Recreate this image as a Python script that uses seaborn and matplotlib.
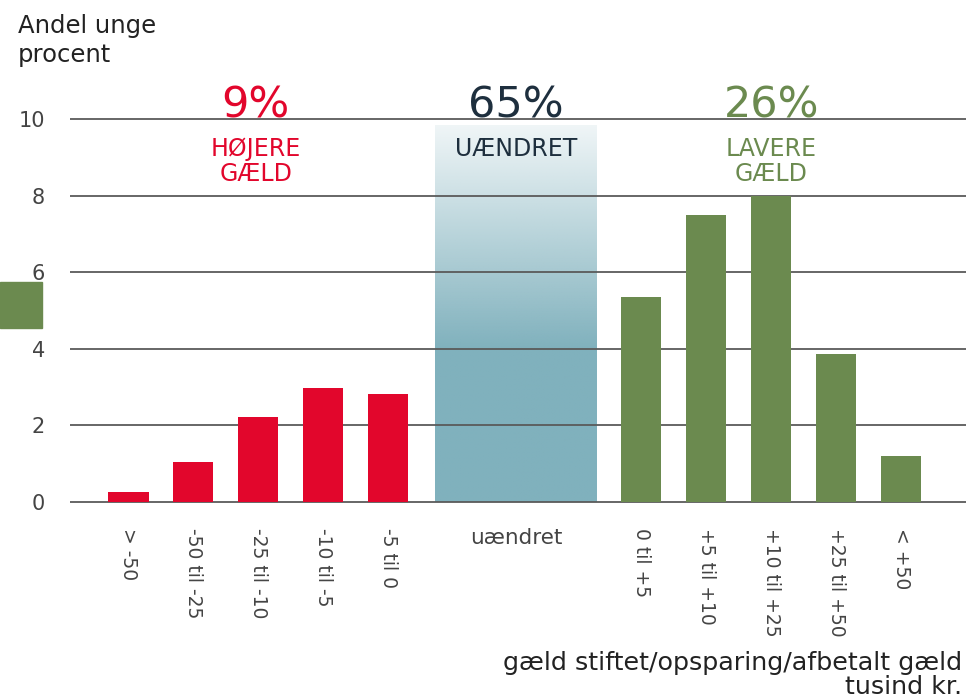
import numpy as np
import pandas as pd
import matplotlib
matplotlib.use("Agg")
import matplotlib.pyplot as plt
import seaborn as sns
from matplotlib.patches import Rectangle

# data
red_cats = ["> -50", "-50 til -25", "-25 til -10", "-10 til -5", "-5 til 0"]
red_vals = [0.26, 1.04, 2.22, 2.98, 2.82]
mid_cat = ["uændret"]
mid_val = [9.85]
green_cats = ["0 til +5", "+5 til +10", "+10 til +25", "+25 til +50", "< +50"]
green_vals = [5.35, 7.49, 8.0, 3.86, 1.2]

shares = ["9%", "65%", "26%"]
share_names = ["HØJERE\nGÆLD", "UÆNDRET", "LAVERE\nGÆLD"]

RED = "#e2062c"
GREEN = "#6b8a4f"
TEAL = "#80b1bd"
NAVY = "#1e2f3e"
GREY = "#444444"

# layout: slot positions on the x axis
red_pos = [float(i) for i in range(5)]
mid_pos = [5.97]
green_pos = [7.9 + i for i in range(5)]

df = pd.DataFrame({
    "pos": red_pos + green_pos,
    "value": red_vals + green_vals,
    "group": ["red"] * 5 + ["green"] * 5,
})
df_mid = pd.DataFrame({"pos": mid_pos, "value": mid_val})

sns.set_style("white")
plt.rcParams["font.family"] = ["DejaVu Sans"]

W, H = 966, 699
fig = plt.figure(figsize=(W / 100, H / 100), dpi=100)
ppu = 38.3  # pixels per y unit
ax = fig.add_axes([70 / W, 1 - (502 + 0.05 * ppu) / H, 896 / W, 10.1 * ppu / H])

sns.barplot(data=df, x="pos", y="value", hue="group",
            palette={"red": RED, "green": GREEN}, native_scale=True,
            width=0.62, legend=False, ax=ax, zorder=2, saturation=1,
            linewidth=0, edgecolor="none")
n_before = len(ax.patches)
sns.barplot(data=df_mid, x="pos", y="value", native_scale=True,
            width=2.49, color=TEAL, ax=ax, zorder=0.3, saturation=1,
            linewidth=0)
mid_patch = ax.patches[n_before]
mid_patch.set_facecolor((0, 0, 0, 0))
mid_patch.set_edgecolor("none")

# gradient fill for the "uændret" bar
top = mid_val[0]
yy = np.linspace(0, top, 300)
alpha = np.clip(1 - (yy - 4.0) / (top - 4.0) * 0.88, 0.12, 1.0)
rgb = np.array(matplotlib.colors.to_rgb(TEAL))
img = np.zeros((300, 1, 4))
img[:, 0, :3] = rgb
img[:, 0, 3] = alpha
x0 = mid_patch.get_x()
x1 = x0 + mid_patch.get_width()
im = ax.imshow(img, extent=[x0, x1, 0, top], origin="lower", aspect="auto",
               zorder=0.3, interpolation="bilinear")
im.set_clip_path(mid_patch)

ax.set_xlim(-0.9, 12.9)
ax.set_ylim(-0.05, 10.05)
ax.set_yticks([0, 2, 4, 6, 8, 10])
ax.yaxis.grid(True, color="#5a5a5a", linewidth=1.3)
ax.xaxis.grid(False)
ax.set_axisbelow(True)
for s in ax.spines.values():
    s.set_visible(False)
ax.tick_params(axis="y", length=0, pad=18, labelsize=15, labelcolor=GREY)
ax.tick_params(axis="x", length=0, pad=17, labelsize=13.5, labelcolor=GREY)

all_pos = red_pos + mid_pos + green_pos
all_cats = red_cats + mid_cat + green_cats
ax.set_xticks(all_pos)
ax.set_xticklabels(all_cats)
for lab, cat in zip(ax.get_xticklabels(), all_cats):
    if cat in mid_cat:
        lab.set_rotation(0)
        lab.set_fontsize(15.5)
    else:
        lab.set_rotation(270)
    lab.set_ha("center")
    lab.set_va("top")
ax.set_xlabel("")
ax.set_ylabel("")

# group annotations
def ypix(p):
    return (502 - p) / ppu

centers = [1.96, 5.97, 7.9 + 2]
colors = [RED, NAVY, GREEN]
for cx, s, name, c in zip(centers, shares, share_names, colors):
    ax.text(cx, ypix(106), s, ha="center", va="center", fontsize=31,
            color=c, clip_on=False, zorder=5)
    ax.text(cx, ypix(137), name, ha="center", va="top", fontsize=17,
            color=c, clip_on=False, zorder=5, linespacing=1.05)

fig.text(18 / W, 1 - 14 / H, "Andel unge\nprocent", ha="left", va="top",
         fontsize=17.5, color="#222222", linespacing=1.25)
fig.text(962 / W, 1 - 651 / H, "gæld stiftet/opsparing/afbetalt gæld\ntusind kr.",
         ha="right", va="top", fontsize=18.3, color="#222222", linespacing=0.98)

# green swatch at left edge
fig.add_artist(Rectangle((0, 1 - 328 / H), 42 / W, 46 / H,
                         transform=fig.transFigure, color=GREEN, zorder=1))

fig.savefig("out.png", dpi=100)
